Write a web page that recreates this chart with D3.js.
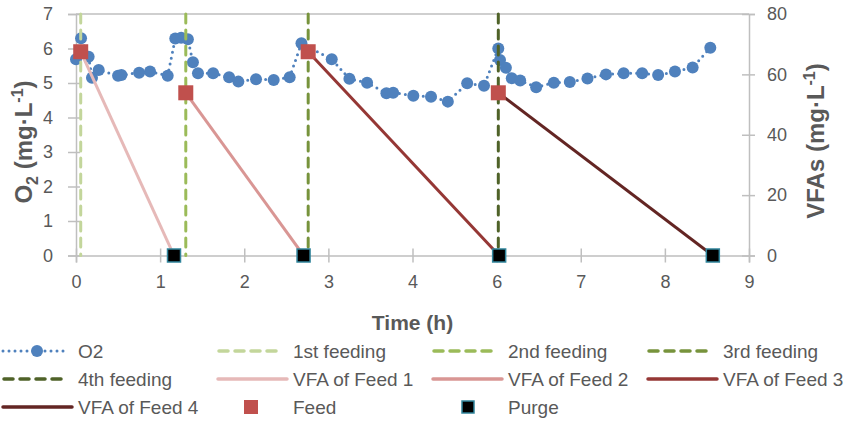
<!DOCTYPE html>
<meta charset="utf-8">
<script src="https://d3js.org/d3.v7.min.js"></script>
<style>
  body { margin: 0; background: #fff; }
  text { font-family: "Liberation Sans Narrow", "Arial Narrow", "Liberation Sans", sans-serif; fill: #595959; }
</style>
<div id="my_dataviz"></div>
<script>
    // x positions are read as positions along the axis (9 evenly spaced ticks)
    var tickLabels = ["0", "1", "2", "3", "4", "6", "7", "8", "9"];

    // dissolved oxygen (mg/L)
    var o2Time = [0.00, 0.06, 0.15, 0.19, 0.27, 0.50, 0.54, 0.75, 0.88, 1.09,
        1.18, 1.25, 1.33, 1.39, 1.45, 1.63, 1.82, 1.93, 2.14, 2.35,
        2.54, 2.68, 3.04, 3.25, 3.46, 3.69, 3.77, 4.01, 4.22, 4.42,
        4.65, 4.85, 5.02, 5.04, 5.11, 5.18, 5.28, 5.47, 5.68, 5.87,
        6.08, 6.30, 6.51, 6.73, 6.92, 7.12, 7.33, 7.54];
    var o2Values = [5.69, 6.30, 5.76, 5.15, 5.38, 5.21, 5.23, 5.30, 5.33, 5.21,
        6.29, 6.31, 6.27, 5.60, 5.28, 5.28, 5.17, 5.04, 5.11, 5.09,
        5.17, 6.15, 5.69, 5.12, 5.01, 4.70, 4.72, 4.63, 4.60, 4.46,
        4.99, 4.92, 6.00, 5.67, 5.44, 5.14, 5.07, 4.88, 5.01, 5.03,
        5.13, 5.25, 5.28, 5.28, 5.23, 5.33, 5.45, 6.02];

    // feeding events (vertical dashed lines)
    var feedingNames = ["1st feeding", "2nd feeding", "3rd feeding", "4th feeding"];
    var feedingTimes = [0.056, 1.305, 2.76, 5.02];
    var feedingColors = ["#c3d69b", "#9bbb59", "#77933c", "#4f6228"];

    // VFA of each feed (mg/L): from feed to purge
    var vfaNames = ["VFA of Feed 1", "VFA of Feed 2", "VFA of Feed 3", "VFA of Feed 4"];
    var feedTimes = [0.056, 1.305, 2.76, 5.02];
    var feedVfa = [67.5, 53.9, 67.5, 53.9];
    var purgeTimes = [1.165, 2.705, 5.03, 7.57];
    var purgeVfa = [0, 0, 0, 0];
    var vfaColors = ["#e6b9b8", "#d99694", "#953735", "#632523"];

    var width = 855, height = 421;
    var x0 = 76, x1 = 749, yTop = 14, yBot = 255.5;

    var svg = d3.select("#my_dataviz").append("svg")
        .attr("width", width).attr("height", height);

    var x = d3.scaleLinear().domain([0, 8]).range([x0, x1]);
    var yL = d3.scaleLinear().domain([0, 7]).range([yBot, yTop]);
    var yR = d3.scaleLinear().domain([0, 80]).range([yBot, yTop]);

    // top border
    svg.append("line").attr("x1", x0).attr("x2", x1).attr("y1", yTop).attr("y2", yTop)
        .attr("stroke", "#bfbfbf").attr("stroke-width", 1.5);

    function styleAxis(g, a, b, dir) {
        g.select(".domain").attr("stroke", "#bfbfbf").attr("stroke-width", 1.5);
        g.selectAll(".tick line").attr("stroke", "#bfbfbf").attr("stroke-width", 1.5)
            .attr(dir + "1", a).attr(dir + "2", b);
        g.selectAll(".tick text").attr("font-size", "18px").attr("fill", "#595959");
    }

    var gx = svg.append("g").attr("transform", "translate(0," + yBot + ")")
        .call(d3.axisBottom(x).tickValues(d3.range(0, 9)).tickFormat(function(d, i) { return tickLabels[i]; })
            .tickSizeOuter(0).tickSize(7).tickPadding(13));
    styleAxis(gx, -7, 7, "y");

    var gl = svg.append("g").attr("transform", "translate(" + x0 + ",0)")
        .call(d3.axisLeft(yL).ticks(7).tickSizeOuter(0).tickSize(8).tickPadding(15));
    styleAxis(gl, -8, 4, "x");

    var gr = svg.append("g").attr("transform", "translate(" + x1 + ",0)")
        .call(d3.axisRight(yR).tickValues([0, 20, 40, 60, 80]).tickSizeOuter(0).tickSize(6).tickPadding(12));
    styleAxis(gr, -7, 6, "x");

    // O2 series
    var o2 = o2Time.map(function(t, i) { return [t, o2Values[i]]; });
    var line = d3.line().x(function(d) { return x(d[0]); }).y(function(d) { return yL(d[1]); });
    svg.append("path").datum(o2).attr("d", line)
        .attr("fill", "none").attr("stroke", "#4f81bd").attr("stroke-width", 3)
        .attr("stroke-linecap", "round").attr("stroke-dasharray", "0,6");
    svg.selectAll(".o2pt").data(o2).enter().append("circle")
        .attr("cx", function(d) { return x(d[0]); })
        .attr("cy", function(d) { return yL(d[1]); })
        .attr("r", 6).attr("fill", "#4f81bd");

    // feeding lines
    svg.selectAll(".feeding").data(feedingTimes).enter().append("line")
        .attr("x1", function(d) { return x(d); }).attr("x2", function(d) { return x(d); })
        .attr("y1", yL(7)).attr("y2", yL(0))
        .attr("stroke", function(d, i) { return feedingColors[i]; })
        .attr("stroke-width", 3).attr("stroke-dasharray", "9,7").attr("stroke-linecap", "round");

    // VFA lines
    svg.selectAll(".vfa").data(feedTimes).enter().append("line")
        .attr("x1", function(d) { return x(d); })
        .attr("y1", function(d, i) { return yR(feedVfa[i]); })
        .attr("x2", function(d, i) { return x(purgeTimes[i]); })
        .attr("y2", function(d, i) { return yR(purgeVfa[i]); })
        .attr("stroke", function(d, i) { return vfaColors[i]; })
        .attr("stroke-width", 3);

    // feed markers
    svg.selectAll(".feed").data(feedTimes).enter().append("rect")
        .attr("x", function(d) { return x(d) - 7.5; })
        .attr("y", function(d, i) { return yR(feedVfa[i]) - 7.5; })
        .attr("width", 15).attr("height", 15).attr("fill", "#c0504d");

    // purge markers
    svg.selectAll(".purge").data(purgeTimes).enter().append("rect")
        .attr("x", function(d) { return x(d) - 6.5; })
        .attr("y", function(d, i) { return yR(purgeVfa[i]) - 6.5; })
        .attr("width", 13).attr("height", 13).attr("fill", "#000")
        .attr("stroke", "#31859c").attr("stroke-width", 1.5);

    // axis titles
    svg.append("text").attr("x", (x0 + x1) / 2).attr("y", 330)
        .attr("text-anchor", "middle").attr("font-size", "21px").attr("font-weight", "bold")
        .text("Time (h)");

    var lt = svg.append("text").attr("transform", "translate(32,142) rotate(-90)")
        .attr("text-anchor", "middle").attr("font-size", "24px").attr("font-weight", "bold");
    lt.append("tspan").text("O");
    lt.append("tspan").attr("dy", 6).attr("font-size", "16px").text("2");
    lt.append("tspan").attr("dy", -6).text(" (mg·L");
    lt.append("tspan").attr("dy", -9).attr("font-size", "16px").text("-1");
    lt.append("tspan").attr("dy", 9).text(")");

    var rt = svg.append("text").attr("transform", "translate(824,141) rotate(-90)")
        .attr("text-anchor", "middle").attr("font-size", "24px").attr("font-weight", "bold");
    rt.append("tspan").text("VFAs (mg·L");
    rt.append("tspan").attr("dy", -9).attr("font-size", "16px").text("-1");
    rt.append("tspan").attr("dy", 9).text(")");

    // legend
    var legendItems = [
        { name: "O2", type: "o2" },
        { name: feedingNames[0], type: "dash", color: feedingColors[0] },
        { name: feedingNames[1], type: "dash", color: feedingColors[1] },
        { name: feedingNames[2], type: "dash", color: feedingColors[2] },
        { name: feedingNames[3], type: "dash", color: feedingColors[3] },
        { name: vfaNames[0], type: "solid", color: vfaColors[0] },
        { name: vfaNames[1], type: "solid", color: vfaColors[1] },
        { name: vfaNames[2], type: "solid", color: vfaColors[2] },
        { name: vfaNames[3], type: "solid", color: vfaColors[3] },
        { name: "Feed", type: "feed" },
        { name: "Purge", type: "purge" }
    ];
    var colX = [2, 217, 432, 647], rowY = [351, 379, 407];

    legendItems.forEach(function(d, i) {
        var g = svg.append("g")
            .attr("transform", "translate(" + colX[i % 4] + "," + rowY[Math.floor(i / 4)] + ")");
        if (d.type === "o2") {
            g.append("line").attr("x1", 1).attr("x2", 64).attr("stroke", "#4f81bd")
                .attr("stroke-width", 3).attr("stroke-linecap", "round").attr("stroke-dasharray", "0,6");
            g.append("circle").attr("cx", 35).attr("r", 6).attr("fill", "#4f81bd");
        } else if (d.type === "dash") {
            g.append("line").attr("x1", 2).attr("x2", 62).attr("stroke", d.color)
                .attr("stroke-width", 3.5).attr("stroke-dasharray", "9,7").attr("stroke-linecap", "round");
        } else if (d.type === "solid") {
            g.append("line").attr("x1", 1).attr("x2", 70).attr("stroke", d.color)
                .attr("stroke-width", 3.5).attr("stroke-linecap", "round");
        } else if (d.type === "feed") {
            g.append("rect").attr("x", 27).attr("y", -7).attr("width", 14).attr("height", 14).attr("fill", "#c0504d");
        } else {
            g.append("rect").attr("x", 30).attr("y", -6).attr("width", 12).attr("height", 12)
                .attr("fill", "#000").attr("stroke", "#31859c").attr("stroke-width", 1.5);
        }
        g.append("text").attr("x", 76).attr("dy", "0.36em").attr("font-size", "19px").text(d.name);
    });
</script>
